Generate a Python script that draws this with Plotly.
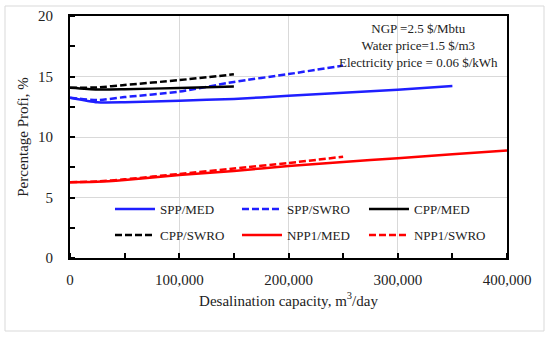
import plotly.graph_objects as go

FONT = "Liberation Serif"

x_spp_med = [0, 25000, 50000, 100000, 150000, 200000, 250000, 300000, 350000]
y_spp_med = [13.25, 12.87, 12.87, 13.0, 13.15, 13.4, 13.65, 13.9, 14.22]
x_spp_swro = [0, 25000, 50000, 100000, 150000, 200000, 250000]
y_spp_swro = [13.25, 13.05, 13.3, 13.75, 14.55, 15.2, 15.9]
x_cpp_med = [0, 25000, 50000, 100000, 150000]
y_cpp_med = [14.07, 13.93, 13.95, 14.05, 14.17]
x_cpp_swro = [0, 25000, 50000, 100000, 150000]
y_cpp_swro = [14.07, 14.1, 14.3, 14.7, 15.18]
x_npp_med = [0, 25000, 50000, 100000, 150000, 200000, 250000, 300000, 350000, 400000]
y_npp_med = [6.27, 6.3, 6.45, 6.85, 7.2, 7.6, 7.93, 8.25, 8.57, 8.88]
x_npp_swro = [0, 25000, 50000, 100000, 150000, 200000, 250000]
y_npp_swro = [6.27, 6.32, 6.5, 6.95, 7.4, 7.85, 8.37]

BLUE = "#1f1fff"
RED = "#ff0000"
BLACK = "#000000"
DASH = "7px,3px"

series = [
    ("SPP/MED", x_spp_med, y_spp_med, BLUE, "solid", "legend"),
    ("SPP/SWRO", x_spp_swro, y_spp_swro, BLUE, DASH, "legend"),
    ("CPP/MED", x_cpp_med, y_cpp_med, BLACK, "solid", "legend"),
    ("CPP/SWRO", x_cpp_swro, y_cpp_swro, BLACK, DASH, "legend2"),
    ("NPP1/MED", x_npp_med, y_npp_med, RED, "solid", "legend2"),
    ("NPP1/SWRO", x_npp_swro, y_npp_swro, RED, DASH, "legend2"),
]

fig = go.Figure()
for name, xs, ys, col, dash, lg in series:
    fig.add_trace(go.Scatter(x=xs, y=ys, name=name, mode="lines", legend=lg,
                             line=dict(color=col, width=2.5, dash=dash, shape="spline", smoothing=0.6)))

leg_common = dict(orientation="h", xanchor="left", yanchor="middle", bgcolor="rgba(0,0,0,0)",
                  borderwidth=0, font=dict(family=FONT, size=13, color="#222"),
                  itemwidth=40, entrywidth=72, entrywidthmode="pixels", traceorder="normal")

fig.update_layout(
    width=550, height=337,
    margin=dict(l=70, r=43, t=16, b=79, autoexpand=False),
    paper_bgcolor="white", plot_bgcolor="white",
    font=dict(family=FONT, size=15, color="#222"),
    showlegend=True,
    legend=dict(x=0.0915, y=0.2025, **leg_common),
    legend2=dict(x=0.0915, y=0.095, **leg_common),
    xaxis=dict(range=[0, 400000], tickvals=[0, 100000, 200000, 300000, 400000],
               ticktext=["0", "100,000", "200,000", "300,000", "400,000"],
               automargin=False,
               showgrid=True, gridcolor="#d9d9d9", gridwidth=1,
               showline=True, linecolor="black", linewidth=2, mirror=True,
               ticks="", ticklabelstandoff=7, zeroline=False,
               minor=dict(dtick=50000, tick0=0, ticks="inside", ticklen=5, tickcolor="black", tickwidth=1.5, showgrid=False),
               title=dict(text="Desalination capacity, m<sup>3</sup>/day", font=dict(size=15), standoff=8),
               tickfont=dict(size=15)),
    yaxis=dict(range=[0, 20], tickvals=[0, 5, 10, 15, 20],
               automargin=False,
               showgrid=True, gridcolor="#d9d9d9", gridwidth=1,
               showline=True, linecolor="black", linewidth=2, mirror=True,
               ticks="", ticklabelstandoff=12, zeroline=False,
               minor=dict(dtick=2.5, tick0=0, ticks="inside", ticklen=5, tickcolor="black", tickwidth=1.5, showgrid=False),
               title=dict(text="Percentage Profi, %", font=dict(size=15), standoff=6),
               tickfont=dict(size=15)),
)

fig.add_annotation(xref="paper", yref="paper", x=(418 - 70) / 437, y=(258 - 45) / 242,
                   text="NGP =2.5 $/Mbtu<br>Water price=1.5 $/m3<br>Electricity price = 0.06 $/kWh",
                   showarrow=False, align="center", xanchor="center", yanchor="middle",
                   font=dict(family=FONT, size=13, color="#222"))

fig.add_shape(type="rect", xref="paper", yref="paper",
              x0=(5 - 70) / 437, x1=(544 - 70) / 437, y0=(258 - 331) / 242, y1=(258 - 6) / 242,
              line=dict(color="#d9d9d9", width=1), fillcolor="rgba(0,0,0,0)", layer="below")

fig.write_html("out.html", config={"displayModeBar": False},
               post_script="document.body.style.margin='0';")
